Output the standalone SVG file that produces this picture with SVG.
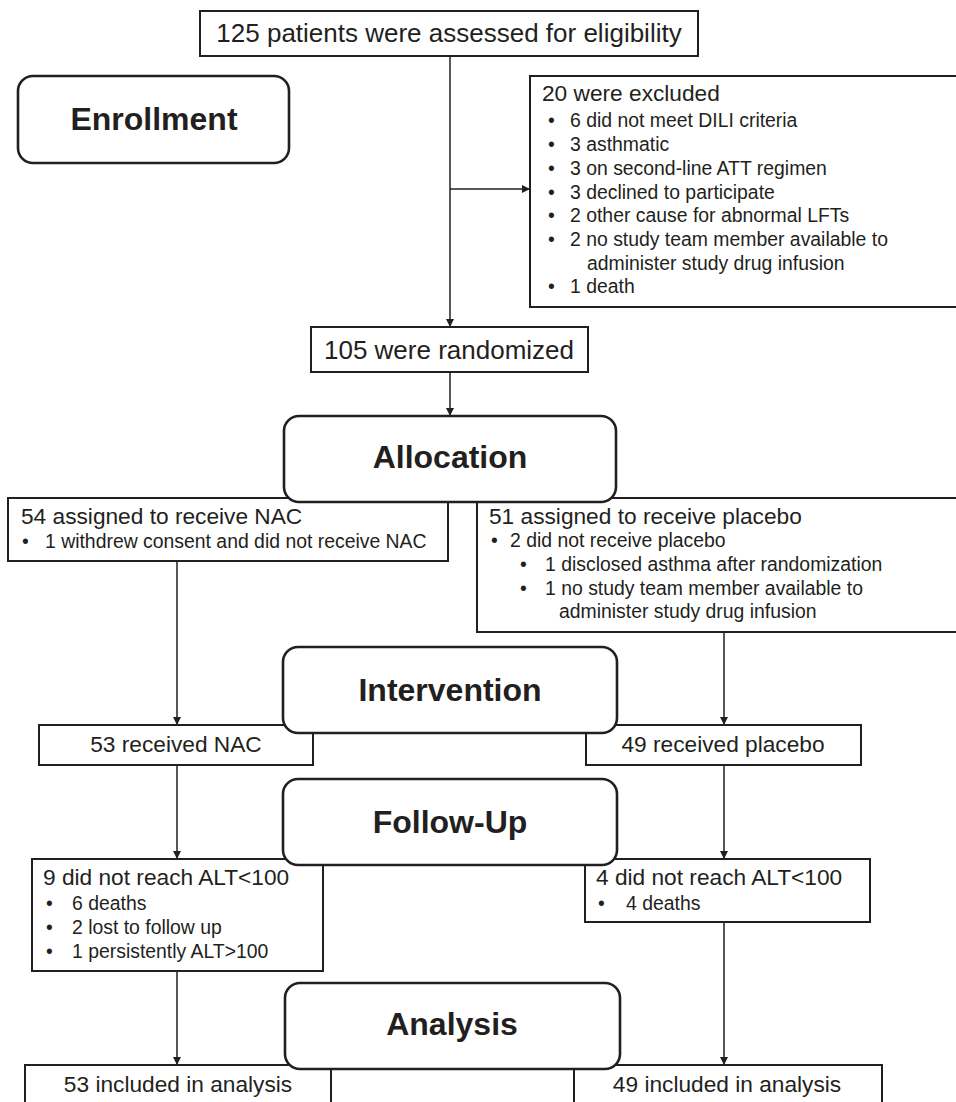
<svg xmlns="http://www.w3.org/2000/svg" width="956" height="1102" viewBox="0 0 956 1102">
<defs>
<marker id="ah" viewBox="0 0 10 10" refX="10" refY="5" markerWidth="8" markerHeight="8" markerUnits="userSpaceOnUse" orient="auto">
<path d="M0,0 L10,5 L0,10 z" fill="#231f20"/>
</marker>
<style>
.box{fill:#fff;stroke:#231f20;stroke-width:2}
.stage{fill:#fff;stroke:#231f20;stroke-width:2.6}
.ln{stroke:#231f20;stroke-width:1.5;fill:none;marker-end:url(#ah)}
text{font-family:"Liberation Sans",Arial,sans-serif;fill:#231f20}
.big{font-size:26px}
.hd{font-size:22.7px}
.bl{font-size:19.4px}
.st{font-size:32px;font-weight:bold;text-anchor:middle}
.mid{text-anchor:middle}
</style>
</defs>
<rect width="956" height="1102" fill="#fff"/>

<g id="connectors">
<line class="ln" x1="450" y1="56" x2="450" y2="327"/>
<line class="ln" x1="450" y1="189" x2="530" y2="189"/>
<line class="ln" x1="450" y1="372" x2="450" y2="416"/>
<line class="ln" x1="177" y1="561" x2="177" y2="725"/>
<line class="ln" x1="724" y1="632" x2="724" y2="725"/>
<line class="ln" x1="177" y1="765" x2="177" y2="859"/>
<line class="ln" x1="724" y1="765" x2="724" y2="859"/>
<line class="ln" x1="177" y1="971" x2="177" y2="1065"/>
<line class="ln" x1="724" y1="922" x2="724" y2="1065"/>
</g>

<g id="assessed">
<rect class="box" x="200" y="11" width="498" height="45"/>
<text class="big mid" x="449" y="42">125 patients were assessed for eligibility</text>
</g>

<g id="enrollment">
<rect class="stage" x="18" y="76" width="271" height="87" rx="15"/>
<text class="st" x="154" y="130">Enrollment</text>
</g>

<g id="excluded">
<rect class="box" x="530" y="76" width="440" height="231"/>
<text class="hd" x="542" y="101">20 were excluded</text>
<g class="bl">
<text x="548" y="127">•</text><text x="570" y="127">6 did not meet DILI criteria</text>
<text x="548" y="151">•</text><text x="570" y="151">3 asthmatic</text>
<text x="548" y="175">•</text><text x="570" y="175">3 on second-line ATT regimen</text>
<text x="548" y="199">•</text><text x="570" y="199">3 declined to participate</text>
<text x="548" y="222">•</text><text x="570" y="222">2 other cause for abnormal LFTs</text>
<text x="548" y="246">•</text><text x="570" y="246">2 no study team member available to</text>
<text x="587" y="270">administer study drug infusion</text>
<text x="548" y="293">•</text><text x="570" y="293">1 death</text>
</g>
</g>

<g id="randomized">
<rect class="box" x="311" y="327" width="277" height="45"/>
<text class="big mid" x="449" y="359">105 were randomized</text>
</g>

<g id="nac-assigned">
<rect class="box" x="8" y="498" width="440" height="63"/>
<text class="hd" x="21" y="524">54 assigned to receive NAC</text>
<text class="bl" x="22" y="548">•</text><text class="bl" x="45" y="548">1 withdrew consent and did not receive NAC</text>
</g>

<g id="placebo-assigned">
<rect class="box" x="477" y="498" width="490" height="134"/>
<text class="hd" x="489" y="524">51 assigned to receive placebo</text>
<g class="bl">
<text x="491" y="547">•</text><text x="510" y="547">2 did not receive placebo</text>
<text x="520" y="571">•</text><text x="545" y="571">1 disclosed asthma after randomization</text>
<text x="520" y="595">•</text><text x="545" y="595">1 no study team member available to</text>
<text x="559" y="618">administer study drug infusion</text>
</g>
</g>

<g id="allocation">
<rect class="stage" x="284" y="416" width="332" height="86" rx="15"/>
<text class="st" x="450" y="468">Allocation</text>
</g>

<g id="nac-received">
<rect class="box" x="39" y="725" width="274" height="40"/>
<text class="hd mid" x="176" y="752">53 received NAC</text>
</g>

<g id="placebo-received">
<rect class="box" x="586" y="725" width="275" height="40"/>
<text class="hd mid" x="723" y="752">49 received placebo</text>
</g>

<g id="intervention">
<rect class="stage" x="283" y="647" width="334" height="86" rx="15"/>
<text class="st" x="450" y="701">Intervention</text>
</g>

<g id="nac-followup">
<rect class="box" x="32" y="859" width="291" height="112"/>
<text class="hd" x="43" y="885">9 did not reach ALT&lt;100</text>
<g class="bl">
<text x="46" y="910">•</text><text x="72" y="910">6 deaths</text>
<text x="46" y="934">•</text><text x="72" y="934">2 lost to follow up</text>
<text x="46" y="958">•</text><text x="72" y="958">1 persistently ALT&gt;100</text>
</g>
</g>

<g id="placebo-followup">
<rect class="box" x="585" y="859" width="285" height="63"/>
<text class="hd" x="596" y="885">4 did not reach ALT&lt;100</text>
<text class="bl" x="598" y="910">•</text><text class="bl" x="626" y="910">4 deaths</text>
</g>

<g id="followup">
<rect class="stage" x="283" y="779" width="334" height="86" rx="15"/>
<text class="st" x="450" y="833">Follow-Up</text>
</g>

<g id="nac-analysis">
<rect class="box" x="25" y="1065" width="306" height="60"/>
<text class="hd mid" x="178" y="1092">53 included in analysis</text>
</g>

<g id="placebo-analysis">
<rect class="box" x="574" y="1065" width="308" height="60"/>
<text class="hd mid" x="727" y="1092">49 included in analysis</text>
</g>

<g id="analysis">
<rect class="stage" x="285" y="983" width="335" height="86" rx="15"/>
<text class="st" x="452" y="1035">Analysis</text>
</g>
</svg>
